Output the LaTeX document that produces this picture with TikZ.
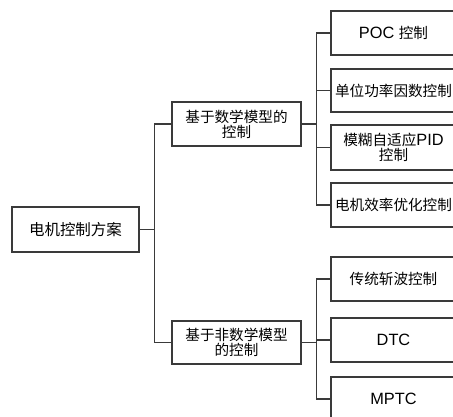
\documentclass[tikz,border=0pt]{standalone}
\usepackage{fontspec}
\setmainfont[Scale=1.12]{Liberation Sans}
\newfontfamily\cjk{Noto Sans CJK SC}
\usetikzlibrary{shadows}
\definecolor{linec}{HTML}{3A3A3A}
\begin{document}
\begin{tikzpicture}[x=1pt,y=-1pt,
  boxa/.style={draw=linec,line width=1.1pt,fill=white,rectangle,inner sep=0pt,align=center,
    drop shadow={shadow xshift=1pt,shadow yshift=-1pt,opacity=0.25},
    font=\fontsize{14.6}{15}\selectfont},
  conn/.style={draw=linec,line width=1.1pt}]
\useasboundingbox (0,0) rectangle (453,416);
\begin{scope}
\clip (0,0) rectangle (453,416);
\node[boxa,minimum width=127pt,minimum height=45pt,font=\fontsize{15.5}{16}\selectfont] (root) at (75.5,229.5) {\cjk 电机控制方案};
\node[boxa,minimum width=129pt,minimum height=44pt] (la) at (236.5,124) {\cjk 基于数学模型的\\\cjk 控制};
\node[boxa,minimum width=129pt,minimum height=43pt] (lb) at (236.5,342.5) {\cjk 基于非数学模型\\\cjk 的控制};
\node[boxa,minimum width=125pt,minimum height=44pt] (p1) at (393.5,33) {POC {\cjk 控制}};
\node[boxa,minimum width=125pt,minimum height=43pt] (p2) at (393.5,90.5) {\cjk 单位功率因数控制};
\node[boxa,minimum width=125pt,minimum height=45pt] (p3) at (393.5,147.5) {{\cjk 模糊自适应}PID\\\cjk 控制};
\node[boxa,minimum width=125pt,minimum height=44pt] (p4) at (393.5,205) {\cjk 电机效率优化控制};
\node[boxa,minimum width=125pt,minimum height=44pt] (p5) at (393.5,279) {\cjk 传统斩波控制};
\node[boxa,minimum width=125pt,minimum height=44pt] (p6) at (393.5,340) {DTC};
\node[boxa,minimum width=125pt,minimum height=44pt] (p7) at (393.5,399) {MPTC};
\end{scope}
\draw[conn] (root.east) -- ++(15,0) coordinate (j1);
\draw[conn] (la.west) -| (j1);
\draw[conn] (lb.west) -| (j1);
\draw[conn] (la.east) -- ++(15,0) coordinate (j2);
\foreach \n in {p1,p2,p3,p4} \draw[conn] (\n.west) -| (j2);
\draw[conn] (lb.east) -- ++(15,0) coordinate (j3);
\foreach \n in {p5,p6,p7} \draw[conn] (\n.west) -| (j3);
\end{tikzpicture}
\end{document}
